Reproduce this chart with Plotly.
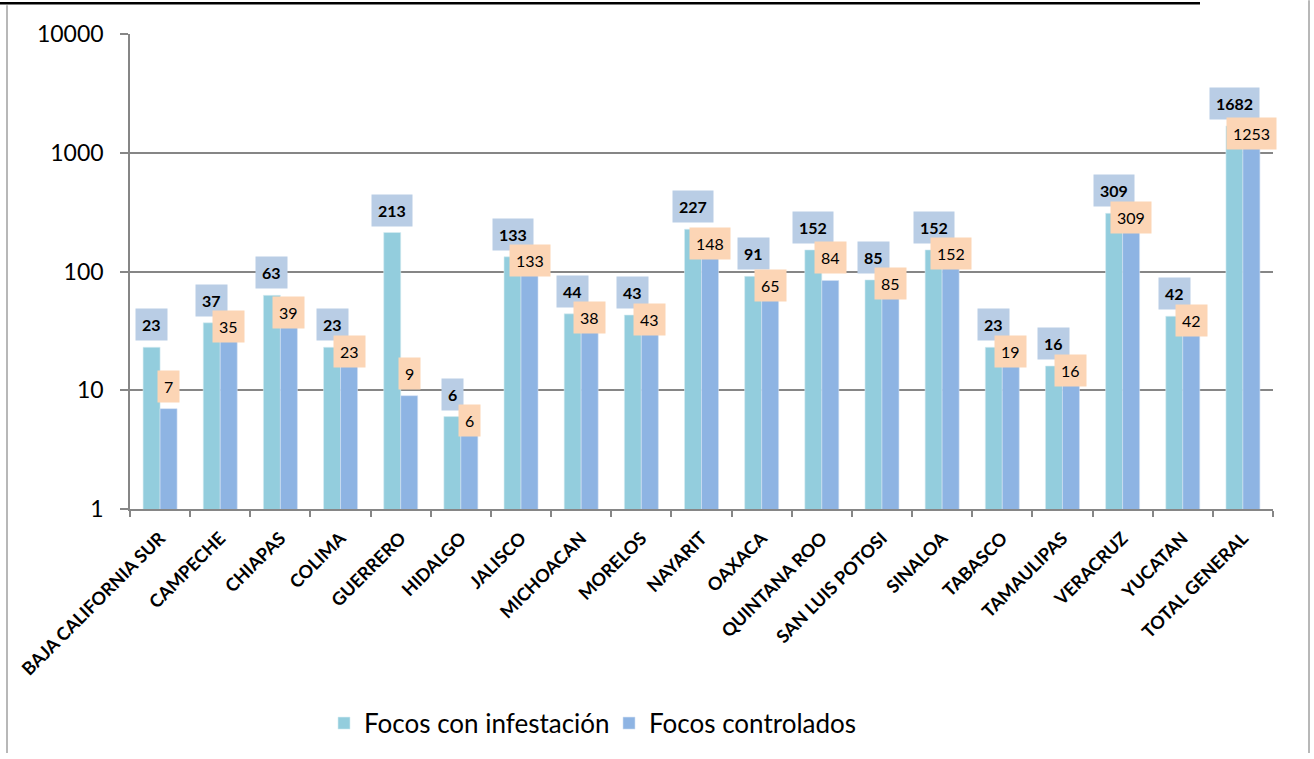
import math
import plotly.graph_objects as go

categories = ["BAJA CALIFORNIA SUR", "CAMPECHE", "CHIAPAS", "COLIMA", "GUERRERO", "HIDALGO",
              "JALISCO", "MICHOACAN", "MORELOS", "NAYARIT", "OAXACA", "QUINTANA ROO",
              "SAN LUIS POTOSI", "SINALOA", "TABASCO", "TAMAULIPAS", "VERACRUZ", "YUCATAN",
              "TOTAL GENERAL"]
infestacion = [23, 37, 63, 23, 213, 6, 133, 44, 43, 227, 91, 152, 85, 152, 23, 16, 309, 42, 1682]
controlados = [7, 35, 39, 23, 9, 6, 133, 38, 43, 148, 65, 84, 85, 152, 19, 16, 309, 42, 1253]
y_tickvals = [1, 10, 100, 1000, 10000]
y_ticktext = ["1", "10", "100", "1000", "10000"]

FONT = "Lato"
C_INF = "#93CDDD"
C_CTRL = "#8EB4E3"
BOX_BLUE = "#B9CDE5"
BOX_ORANGE = "#FCD5B5"
GRID = "#868686"

W, H = 1314, 759
L, R, T, B = 130, 41, 34, 246
plot_h = H - T - B
px_per_decade = plot_h / 4.0

bargap = 0.435
off = (1 - bargap) / 4.0

fig = go.Figure()
fig.add_trace(go.Bar(name="Focos con infestación", x=categories, y=infestacion,
                     marker=dict(color=C_INF, line=dict(color="#D6ECF2", width=0.6))))
fig.add_trace(go.Bar(name="Focos controlados", x=categories, y=controlados,
                     marker=dict(color=C_CTRL, line=dict(color="#D3E1F3", width=0.6))))

ann = []
for i, (a, c) in enumerate(zip(infestacion, controlados)):
    ann.append(dict(x=i - off, y=math.log10(a), xref="x", yref="y",
                    text=f"<b>{a}</b>", showarrow=False, yanchor="bottom", yshift=6,
                    bgcolor=BOX_BLUE, borderpad=6,
                    font=dict(family=FONT, size=16, color="black")))
    gap_px = (math.log10(a) - math.log10(c)) * px_per_decade
    if gap_px >= 30:
        ya, ys = "bottom", 6
    else:
        ya, ys = "middle", min(8, gap_px - 4)
    ann.append(dict(x=i + off, y=math.log10(c), xref="x", yref="y",
                    text=f"{c}", showarrow=False, yanchor=ya, yshift=ys,
                    bgcolor=BOX_ORANGE, borderpad=6,
                    font=dict(family=FONT, size=16, color="black")))

def px_x(p):
    return (p - L) / (W - L - R)

def px_y(p):
    return (H - B - p) / plot_h

shapes = [
    dict(type="line", xref="paper", yref="paper", x0=px_x(0), x1=px_x(1200),
         y0=px_y(3), y1=px_y(3), line=dict(color="black", width=2.5)),
    dict(type="line", xref="paper", yref="paper", x0=px_x(7), x1=px_x(7),
         y0=px_y(5), y1=px_y(759), line=dict(color="#A0A0A0", width=1.5)),
    dict(type="line", xref="paper", yref="paper", x0=px_x(1309), x1=px_x(1309),
         y0=px_y(0), y1=px_y(759), line=dict(color="#A0A0A0", width=1.5)),
]

fig.update_layout(
    width=W, height=H,
    margin=dict(l=L, r=R, t=T, b=B),
    paper_bgcolor="white", plot_bgcolor="white",
    barmode="group", bargap=bargap, bargroupgap=0,
    font=dict(family=FONT, color="black"),
    annotations=ann, shapes=shapes,
    legend=dict(orientation="h", x=px_x(324), xanchor="left", y=px_y(729), yanchor="middle",
                font=dict(family=FONT, size=26, color="black"), entrywidth=240,
                itemwidth=30, bgcolor="rgba(0,0,0,0)"),
    xaxis=dict(type="category", tickson="boundaries", ticks="outside", ticklen=6,
               tickcolor=GRID, tickwidth=1.5, showline=True, linecolor=GRID, linewidth=1.5,
               tickangle=-45, tickfont=dict(family=FONT, size=18, color="black", weight="bold"),
               ticklabelstandoff=10,
               showgrid=False, range=[-0.5, len(categories) - 0.5]),
    yaxis=dict(type="log", range=[0, 4], tickvals=y_tickvals, ticktext=y_ticktext,
               ticks="outside", ticklen=8, tickcolor=GRID, tickwidth=1.5,
               showline=True, linecolor=GRID, linewidth=1.5,
               showgrid=True, gridcolor=GRID, gridwidth=1.5,
               tickfont=dict(family=FONT, size=23, color="black"), ticklabelstandoff=12,
               zeroline=False),
)

fig.write_html("out.html", config={"displayModeBar": False},
               post_script="document.body.style.margin='0';document.body.style.overflow='hidden';")
